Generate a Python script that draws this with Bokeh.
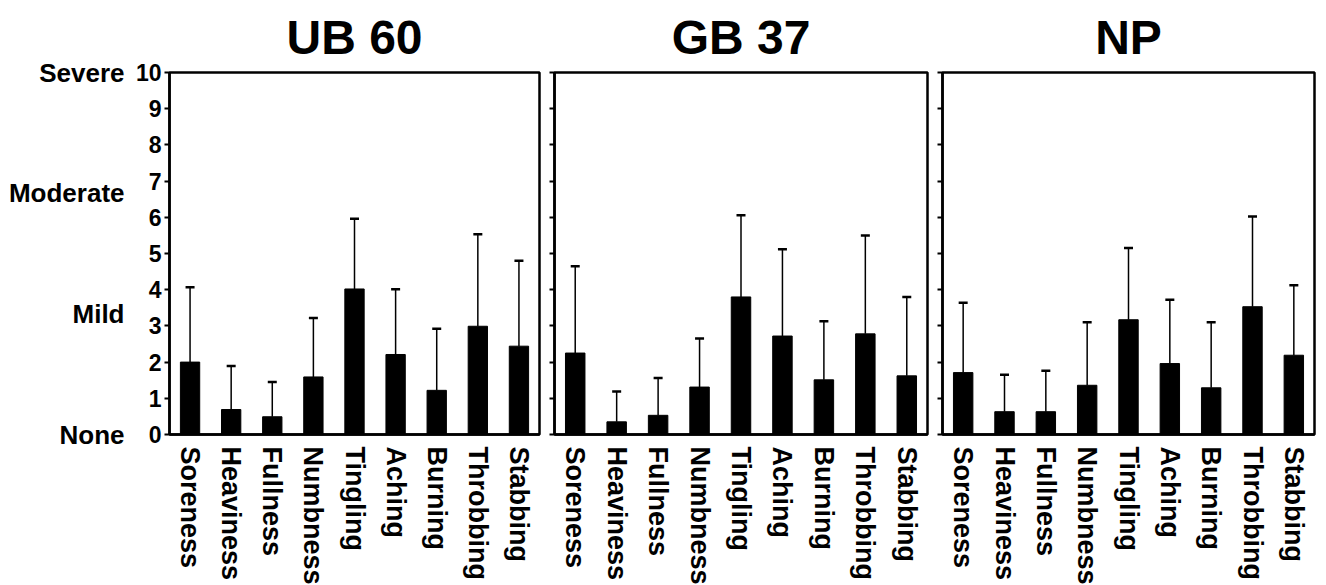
from bokeh.plotting import figure
from bokeh.layouts import row
from bokeh.models import (FactorRange, Range1d, Whisker, TeeHead, ColumnDataSource,
                          LinearAxis, FixedTicker)
from bokeh.embed import file_html
from bokeh.resources import INLINE

categories = ["Soreness", "Heaviness", "Fullness", "Numbness", "Tingling",
              "Aching", "Burning", "Throbbing", "Stabbing"]
panel_titles = ["UB 60", "GB 37", "NP"]

ub60_mean = [2.00, 0.69, 0.49, 1.59, 4.02, 2.21, 1.22, 2.99, 2.44]
ub60_upper = [4.07, 1.89, 1.45, 3.22, 5.96, 4.01, 2.92, 5.53, 4.80]
gb37_mean = [2.25, 0.35, 0.53, 1.31, 3.80, 2.72, 1.51, 2.78, 1.62]
gb37_upper = [4.65, 1.19, 1.56, 2.65, 6.06, 5.12, 3.13, 5.50, 3.80]
np_mean = [1.71, 0.63, 0.63, 1.36, 3.17, 1.96, 1.29, 3.53, 2.19]
np_upper = [3.64, 1.65, 1.76, 3.10, 5.15, 3.72, 3.10, 6.02, 4.12]

y_ticks = [0, 1, 2, 3, 4, 5, 6, 7, 8, 9, 10]
severity_ticks = [0, 3.33, 6.67, 10]
severity_labels = ["None", "Mild", "Moderate", "Severe"]

FONT = "Liberation Sans"
means = [ub60_mean, gb37_mean, np_mean]
uppers = [ub60_upper, gb37_upper, np_upper]
frame_widths = [370, 373, 372]
left_borders = [169, 8, 8]
right_borders = [7, 7, 3]

figs = []
for i in range(3):
    p = figure(x_range=FactorRange(*categories), y_range=Range1d(0, 10),
               frame_width=frame_widths[i], frame_height=362,
               min_border_left=left_borders[i], min_border_right=right_borders[i],
               min_border_top=71, min_border_bottom=143,
               output_backend="svg", toolbar_location=None,
               background_fill_color="white", border_fill_color="white")
    p.title.text = panel_titles[i]
    p.title.text_font = FONT
    p.title.text_font_size = "48px"
    p.title.text_font_style = "bold"
    p.title.align = "center"
    p.title.text_color = "black"
    p.title.standoff = 17
    p.outline_line_color = "black"
    p.outline_line_width = 2.5
    p.xgrid.visible = False
    p.ygrid.visible = False

    src = ColumnDataSource(dict(cat=categories, mean=means[i], upper=uppers[i]))
    p.vbar(x="cat", top="mean", bottom=0, width=0.47, source=src,
           fill_color="black", line_color="black")
    w = Whisker(base="cat", lower="mean", upper="upper", source=src,
                line_color="black", line_width=1.5, lower_head=None,
                upper_head=TeeHead(size=9, line_color="black", line_width=2.5))
    p.add_layout(w)

    xa = p.xaxis[0]
    xa.major_label_orientation = "vertical"
    xa.major_label_text_font = FONT
    xa.major_label_text_font_style = "bold"
    xa.major_label_text_font_size = "27px"
    xa.major_label_text_color = "black"
    xa.major_tick_line_color = None
    xa.minor_tick_line_color = None
    xa.axis_line_color = "black"
    xa.axis_line_width = 2.5
    xa.major_label_standoff = 6

    ya = p.yaxis[0]
    ya.ticker = FixedTicker(ticks=y_ticks)
    ya.axis_line_color = "black"
    ya.axis_line_width = 2.5
    ya.major_tick_line_color = "black"
    ya.major_tick_line_width = 2
    ya.major_tick_out = 5
    ya.major_tick_in = 0
    ya.minor_tick_line_color = None
    if i == 0:
        ya.major_label_text_font = FONT
        ya.major_label_text_font_style = "bold"
        ya.major_label_text_font_size = "23px"
        ya.major_label_text_color = "black"
        ya.major_label_standoff = 3
        sev = LinearAxis(ticker=FixedTicker(ticks=severity_ticks),
                         major_label_overrides={t: s for t, s in zip(severity_ticks, severity_labels)},
                         axis_line_color=None, major_tick_line_color=None,
                         minor_tick_line_color=None,
                         major_label_text_font=FONT, major_label_text_font_style="bold",
                         major_label_text_font_size="26px", major_label_text_color="black",
                         major_label_standoff=2)
        p.add_layout(sev, "left")
    else:
        ya.major_label_text_color = None
        ya.major_label_standoff = 0
    figs.append(p)

layout = row(*figs, spacing=0)
open("out.html", "w").write(file_html(layout, INLINE))
